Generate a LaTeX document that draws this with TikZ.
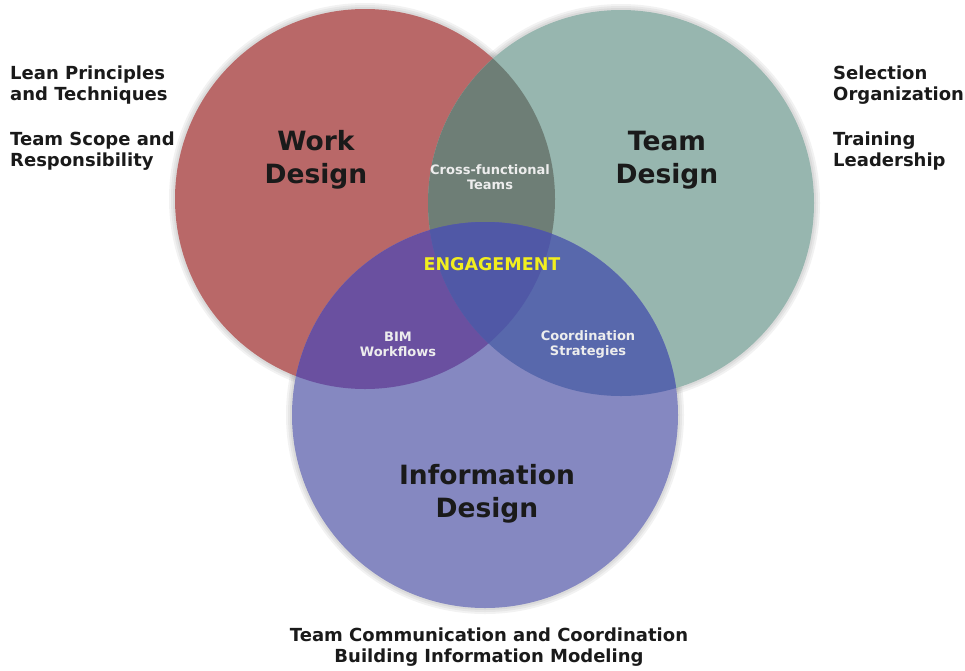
\documentclass[tikz,border=0pt]{standalone}
\usepackage{fontspec}
\setmainfont{DejaVu Sans}
\definecolor{wcol}{HTML}{B96868}
\definecolor{tcol}{HTML}{97B6AF}
\definecolor{icol}{HTML}{8588C1}
\definecolor{wtcol}{HTML}{6E7E76}
\definecolor{wicol}{HTML}{6A50A0}
\definecolor{ticol}{HTML}{5868AC}
\definecolor{allcol}{HTML}{5058A6}
\definecolor{txtcol}{HTML}{1A1A1A}
\definecolor{engcol}{HTML}{F2EE1E}
\begin{document}
\begin{tikzpicture}[x=1pt,y=-1pt,
  sidetext/.style={font=\bfseries\fontsize{18}{21}\selectfont, text=txtcol, align=left, anchor=west, inner sep=0pt},
  bigtext/.style={font=\bfseries\fontsize{26.5}{33}\selectfont, text=txtcol, align=center, inner sep=0pt},
  smalltext/.style={font=\bfseries\fontsize{13}{15}\selectfont, text=white!93!black, align=center, inner sep=0pt},
  engtext/.style={font=\bfseries\fontsize{17.5}{18}\selectfont, text=engcol, inner sep=0pt},
  bottomtext/.style={font=\bfseries\fontsize{18}{21}\selectfont, text=txtcol, align=center, inner sep=0pt},
  halo/.style={fill=black, fill opacity=0.05}
]
\useasboundingbox (0,0) rectangle (965,670);
\coordinate (W) at (365,199);
\coordinate (T) at (621,203);
\coordinate (I) at (485,415);
\def\rW{190}\def\rT{193}\def\rI{193}
% soft halos
\foreach \d in {2,4,6}{
  \fill[halo] (W) circle (\rW+\d);
  \fill[halo] (T) circle (\rT+\d);
  \fill[halo] (I) circle (\rI+\d);
}
% base circles
\fill[wcol] (W) circle (\rW);
\fill[tcol] (T) circle (\rT);
\fill[icol] (I) circle (\rI);
% overlaps
\begin{scope}\clip (W) circle (\rW); \fill[wtcol] (T) circle (\rT); \end{scope}
\begin{scope}\clip (W) circle (\rW); \fill[wicol] (I) circle (\rI); \end{scope}
\begin{scope}\clip (T) circle (\rT); \fill[ticol] (I) circle (\rI); \end{scope}
\begin{scope}\clip (W) circle (\rW); \clip (T) circle (\rT); \fill[allcol] (I) circle (\rI); \end{scope}
% side texts
\node[sidetext] (lean) at (10,85) {Lean Principles\\and Techniques};
\node[sidetext] (scope) at (10,151) {Team Scope and\\Responsibility};
\node[sidetext] (sel) at (833,85) {Selection\\Organization};
\node[sidetext] (train) at (833,151) {Training\\Leadership};
% main labels
\node[bigtext] (work) at (316,160) {Work\\Design};
\node[bigtext] (team) at (667,160) {Team\\Design};
\node[bigtext] (info) at (487,494) {Information\\Design};
% intersection labels
\node[smalltext] (cross) at (490,177) {Cross-functional\\Teams};
\node[engtext] (eng) at (492,264) {ENGAGEMENT};
\node[smalltext] (bim) at (398,344) {BIM\\Workflows};
\node[smalltext] (coord) at (588,344) {Coordination\\Strategies};
% bottom
\node[bottomtext] (bottom) at (489,647) {Team Communication and Coordination\\Building Information Modeling};
\end{tikzpicture}
\end{document}
